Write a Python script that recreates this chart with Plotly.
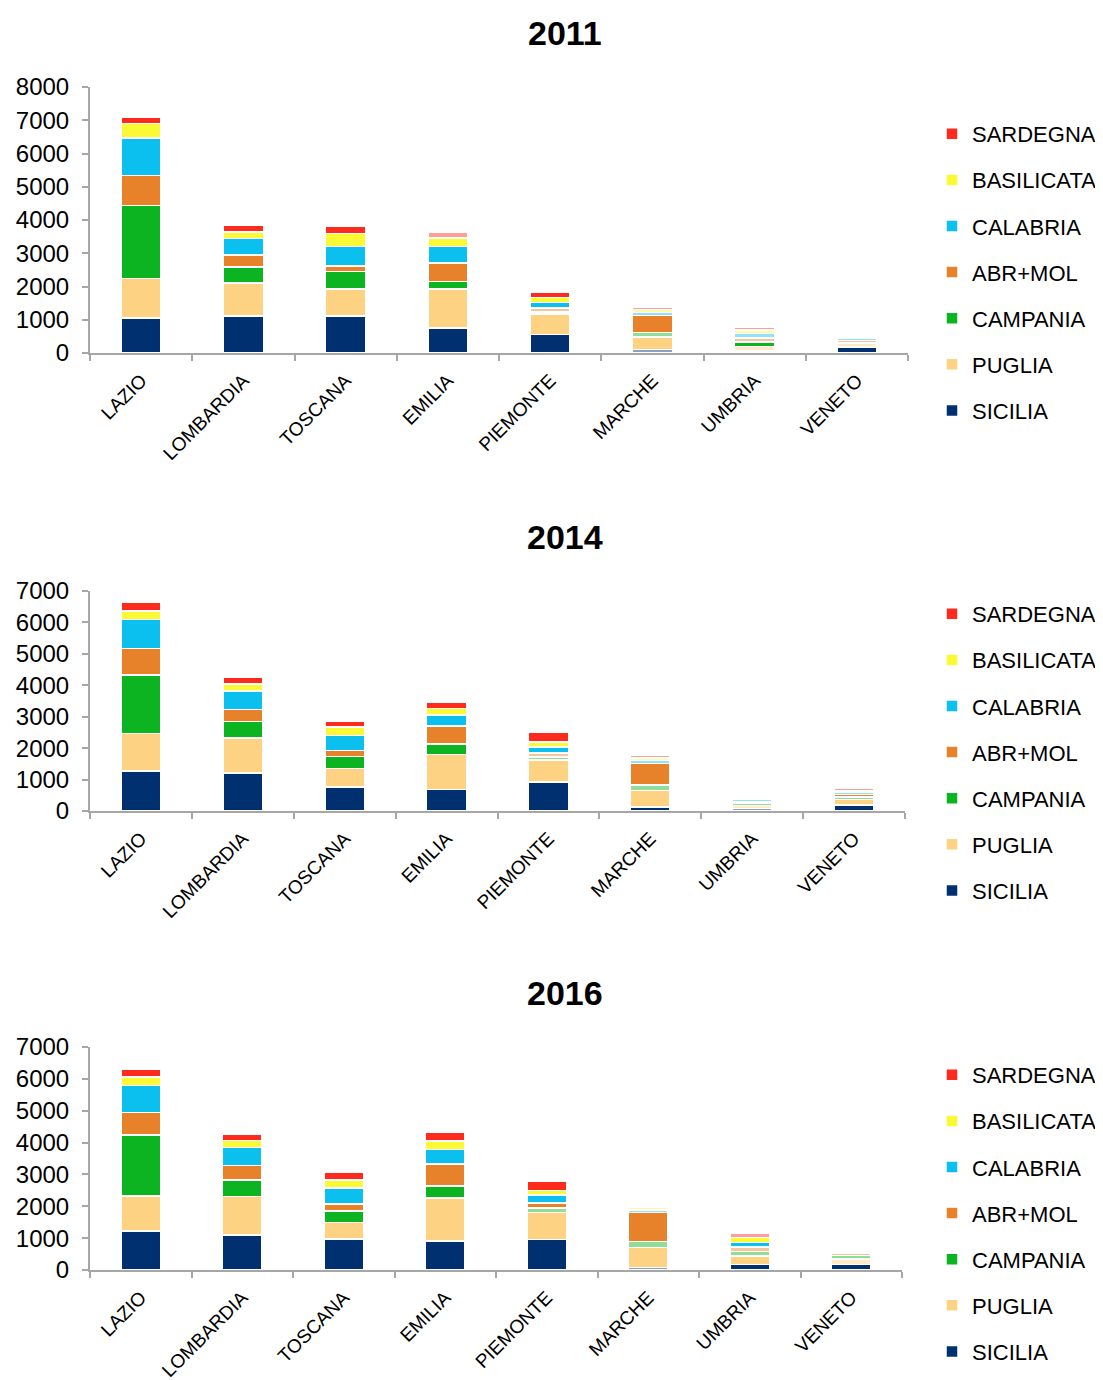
import plotly.graph_objects as go

# ---------------- data ----------------
regions = ["LAZIO", "LOMBARDIA", "TOSCANA", "EMILIA", "PIEMONTE", "MARCHE", "UMBRIA", "VENETO"]
series_names = ["SICILIA", "PUGLIA", "CAMPANIA", "ABR+MOL", "CALABRIA", "BASILICATA", "SARDEGNA"]
years = ["2011", "2014", "2016"]

# values per series (bottom to top), one entry per region
sicilia_2011    = [1050, 1120, 1120, 750, 550, 100, 60, 180]
puglia_2011     = [1185, 985, 805, 1175, 620, 380, 140, 100]
campania_2011   = [2195, 480, 530, 230, 70, 140, 130, 40]
abrmol_2011     = [915, 370, 165, 550, 110, 515, 120, 60]
calabria_2011   = [1120, 485, 590, 505, 170, 90, 130, 60]
basilicata_2011 = [435, 200, 380, 250, 150, 80, 110, 40]
sardegna_2011   = [200, 200, 220, 170, 170, 75, 70, 40]

sicilia_2014    = [1275, 1210, 765, 680, 925, 130, 80, 190]
puglia_2014     = [1190, 1115, 585, 1125, 700, 530, 90, 180]
campania_2014   = [1860, 515, 390, 320, 100, 170, 80, 80]
abrmol_2014     = [850, 390, 190, 575, 120, 680, 60, 70]
calabria_2014   = [925, 595, 470, 350, 190, 90, 60, 80]
basilicata_2014 = [265, 215, 280, 210, 160, 80, 40, 60]
sardegna_2014   = [285, 210, 190, 205, 300, 85, 40, 60]

sicilia_2016    = [1225, 1100, 975, 910, 965, 80, 180, 180]
puglia_2016     = [1105, 1205, 515, 1345, 835, 630, 260, 170]
campania_2016   = [1915, 525, 365, 385, 150, 180, 140, 100]
abrmol_2016     = [705, 450, 215, 695, 150, 910, 140, 90]
calabria_2016   = [835, 570, 500, 440, 250, 90, 150, 50]
basilicata_2016 = [275, 215, 260, 280, 150, 80, 150, 40]
sardegna_2016   = [230, 210, 230, 265, 280, 70, 130, 50]

y_max = [8000, 7000, 7000]

data = {
    "2011": [sicilia_2011, puglia_2011, campania_2011, abrmol_2011, calabria_2011, basilicata_2011, sardegna_2011],
    "2014": [sicilia_2014, puglia_2014, campania_2014, abrmol_2014, calabria_2014, basilicata_2014, sardegna_2014],
    "2016": [sicilia_2016, puglia_2016, campania_2016, abrmol_2016, calabria_2016, basilicata_2016, sardegna_2016],
}

# ---------------- style ----------------
colors = ["#00306F", "#FDD383", "#0BB420", "#E8822A", "#0BBFEF", "#FBF834", "#FE2A1E"]

# segments drawn in a faded tone in the original (region, series)
pale = {
    "2011": [("EMILIA", "SARDEGNA"), ("PIEMONTE", "CAMPANIA"), ("PIEMONTE", "ABR+MOL"),
             ("MARCHE", "SICILIA"), ("MARCHE", "CAMPANIA"), ("MARCHE", "CALABRIA"),
             ("MARCHE", "BASILICATA"), ("MARCHE", "SARDEGNA"),
             ("UMBRIA", "SICILIA"), ("UMBRIA", "PUGLIA"), ("UMBRIA", "ABR+MOL"),
             ("UMBRIA", "CALABRIA"), ("UMBRIA", "BASILICATA"), ("UMBRIA", "SARDEGNA"),
             ("VENETO", "PUGLIA"), ("VENETO", "CAMPANIA"), ("VENETO", "ABR+MOL"),
             ("VENETO", "CALABRIA"), ("VENETO", "BASILICATA"), ("VENETO", "SARDEGNA")],
    "2014": [("PIEMONTE", "CAMPANIA"), ("PIEMONTE", "ABR+MOL"),
             ("MARCHE", "CAMPANIA"), ("MARCHE", "CALABRIA"), ("MARCHE", "BASILICATA"),
             ("MARCHE", "SARDEGNA")]
            + [("UMBRIA", s) for s in series_names]
            + [("VENETO", "CAMPANIA"), ("VENETO", "CALABRIA"), ("VENETO", "BASILICATA"),
               ("VENETO", "SARDEGNA")],
    "2016": [("PIEMONTE", "CAMPANIA"),
             ("MARCHE", "SICILIA"), ("MARCHE", "CAMPANIA"), ("MARCHE", "CALABRIA"),
             ("MARCHE", "BASILICATA"), ("MARCHE", "SARDEGNA"),
             ("UMBRIA", "CAMPANIA"), ("UMBRIA", "ABR+MOL"), ("UMBRIA", "SARDEGNA"),
             ("VENETO", "PUGLIA"), ("VENETO", "CAMPANIA"), ("VENETO", "ABR+MOL"),
             ("VENETO", "CALABRIA"), ("VENETO", "BASILICATA"), ("VENETO", "SARDEGNA")],
}

PAGE_W, PAGE_H = 1103, 1380
OFF = 8  # default page body margin
W, H = PAGE_W - OFF, PAGE_H - OFF
FONT = "Liberation Sans, Arial, sans-serif"


def fx(px):
    return (px - OFF) / W


def fy(py):
    return 1 - (py - OFF) / H


# plot areas in page pixels: (x_left, x_right, y_top, y_bottom)
areas = [(90, 908, 87, 353), (90, 905, 591, 811), (90, 902, 1047, 1270)]
title_y = [33, 537, 993]
legend_top = [113, 593, 1054]

fig = go.Figure()

for k, yr in enumerate(years):
    axn = "" if k == 0 else str(k + 1)
    leg = "legend" if k == 0 else f"legend{k + 1}"
    for j, s in enumerate(series_names):
        op = [0.45 if (r, s) in pale[yr] else 1.0 for r in regions]
        fig.add_trace(go.Bar(
            x=regions, y=data[yr][j], name=s,
            marker=dict(color=colors[j], opacity=op, line=dict(color="white", width=1.5)),
            width=0.39,
            xaxis="x" + axn, yaxis="y" + axn,
            legend=leg, legendgroup=f"{yr}-{s}", legendrank=100 - j, showlegend=True,
        ))

    xl, xr, yt, yb = areas[k]
    fig.update_layout(**{
        "xaxis" + axn: dict(
            domain=[fx(xl), fx(xr)], anchor="y" + axn, showline=True, linecolor="#A6A6A6",
            linewidth=2, ticks="outside", tickson="boundaries", ticklen=6,
            tickcolor="#A6A6A6", tickwidth=2, ticklabelstandoff=7,
            tickangle=-45, tickfont=dict(family=FONT, size=19, color="#000"),
            showgrid=False, zeroline=False,
        ),
        "yaxis" + axn: dict(
            domain=[fy(yb), fy(yt)], anchor="x" + axn, range=[0, y_max[k]], dtick=1000,
            showline=True, linecolor="#A6A6A6", linewidth=2, ticks="outside",
            ticklen=6, tickcolor="#A6A6A6", tickwidth=2, showgrid=False, zeroline=False,
            tickfont=dict(family=FONT, size=24, color="#000"), ticklabelstandoff=8,
        ),
        leg: dict(
            x=fx(932), y=fy(legend_top[k]), xanchor="left", yanchor="top",
            traceorder="grouped", tracegroupgap=14.5,
            font=dict(family=FONT, size=22, color="#000"),
            bgcolor="rgba(0,0,0,0)", itemwidth=30,
        ),
    })
    fig.add_annotation(
        text=f"<b>{yr}</b>", x=fx(565), y=fy(title_y[k]), xref="paper", yref="paper",
        showarrow=False, font=dict(family=FONT, size=34, color="#000"),
        xanchor="center", yanchor="middle",
    )

fig.update_layout(
    width=W, height=H, barmode="stack",
    margin=dict(l=0, r=0, t=0, b=0, autoexpand=False),
    paper_bgcolor="white", plot_bgcolor="white",
)

fig.write_html("out.html")
